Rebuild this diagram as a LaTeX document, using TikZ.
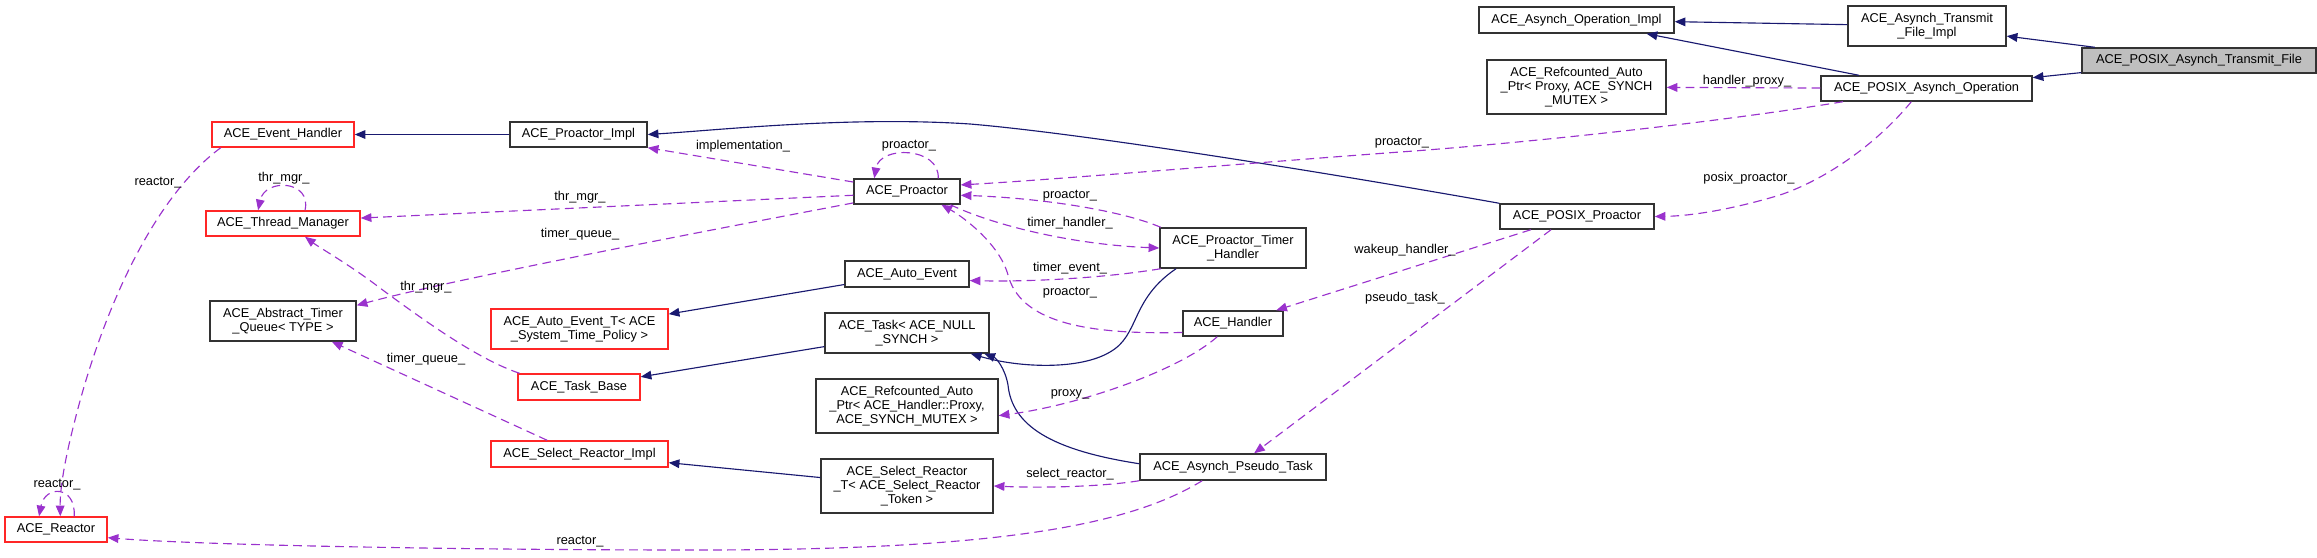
\documentclass[tikz,border=0pt]{standalone}
\usepackage{fontspec}
\setmainfont{Liberation Sans}
\usetikzlibrary{arrows.meta}
\definecolor{inheritblue}{HTML}{191970}
\definecolor{usepurple}{HTML}{9A32CD}
\tikzset{ %inner sep = 0mm,
  >={Triangle[length=8pt,width=6.5pt]},
  {class/.style} ={draw=black!80, line width=1.1pt, fill=white, inner sep=0,
                   align=center, font=\fontsize{9.6}{10.5}\selectfont},
  {red class/.style} ={class, draw=red!85},
  {this class/.style} ={class, fill=gray!50},
  {box size/.style 2 args} ={minimum width=#1*0.75pt, minimum height=#2*0.75pt},
  {inherit/.style} ={->, line width=0.85pt, draw=inheritblue},
  {use/.style} ={->, line width=0.85pt, draw=usepurple, dash pattern=on 6.5pt off 4pt},
  {edge label/.style} ={inner sep=0, font=\fontsize{9.6}{10.5}\selectfont},
}

\begin{document}
\begin{tikzpicture}[x=0.75pt, y=-0.75pt]
\useasboundingbox (0,0) rectangle (2317,557);

% classes
\node[this class, box size={234}{25}] (transmitfile) at (2199,60.5) {ACE\_POSIX\_Asynch\_Transmit\_File};
\node[class, box size={158}{40}] (transmitimpl) at (1927,26) {ACE\_Asynch\_Transmit\\\_File\_Impl};
\node[class, box size={195}{26}] (opimpl) at (1576.5,20) {ACE\_Asynch\_Operation\_Impl};
\node[class, box size={211}{25}] (posixop) at (1926.5,88.5) {ACE\_POSIX\_Asynch\_Operation};
\node[class, box size={179}{54}] (refproxy) at (1576.5,87) {ACE\_Refcounted\_Auto\\\_Ptr< Proxy, ACE\_SYNCH\\\_MUTEX >};
\node[class, box size={154}{25}] (posixproactor) at (1577,216.5) {ACE\_POSIX\_Proactor};
\node[class, box size={137}{25}] (proactorimpl) at (578.5,134.5) {ACE\_Proactor\_Impl};
\node[red class, box size={142}{25}] (eventhandler) at (283,134.5) {ACE\_Event\_Handler};
\node[class, box size={106}{25}] (proactor) at (907,191.5) {ACE\_Proactor};
\node[red class, box size={154}{25}] (threadmgr) at (283,223.5) {ACE\_Thread\_Manager};
\node[class, box size={146}{40}] (timerhandler) at (1233,248) {ACE\_Proactor\_Timer\\\_Handler};
\node[class, box size={124}{26}] (autoevent) at (907,274) {ACE\_Auto\_Event};
\node[class, box size={146}{40}] (timerqueue) at (283,321) {ACE\_Abstract\_Timer\\\_Queue< TYPE >};
\node[red class, box size={177}{40}] (autoeventT) at (579.5,329) {ACE\_Auto\_Event\_T< ACE\\\_System\_Time\_Policy >};
\node[class, box size={100}{25}] (handler) at (1233,323.5) {ACE\_Handler};
\node[class, box size={164}{40}] (task) at (907,333) {ACE\_Task< ACE\_NULL\\\_SYNCH >};
\node[red class, box size={122}{26}] (taskbase) at (579,387) {ACE\_Task\_Base};
\node[class, box size={182}{54}] (refhandler) at (907,406) {ACE\_Refcounted\_Auto\\\_Ptr< ACE\_Handler::Proxy,\\ ACE\_SYNCH\_MUTEX >};
\node[red class, box size={177}{26}] (selectimpl) at (579.5,454) {ACE\_Select\_Reactor\_Impl};
\node[class, box size={172}{54}] (selectT) at (907,486) {ACE\_Select\_Reactor\\\_T< ACE\_Select\_Reactor\\\_Token >};
\node[class, box size={186}{26}] (pseudotask) at (1233,467) {ACE\_Asynch\_Pseudo\_Task};
\node[red class, box size={102}{25}] (reactor) at (56,529.5) {ACE\_Reactor};

% inheritance
\draw[inherit] (transmitfile) -- (transmitimpl);
\draw[inherit] (transmitfile) -- (posixop);
\draw[inherit] (transmitimpl) -- (opimpl);
\draw[inherit] (posixop) -- (opimpl);
\draw[inherit] (posixproactor.north west) .. controls (1380,182) and (1100,135) .. (970,124)
               .. controls (850,116) and (720,130) .. (proactorimpl.east);
\draw[inherit] (proactorimpl) -- (eventhandler);
\draw[inherit] (autoevent) -- (autoeventT);
\draw[inherit] (task) -- (taskbase);
\draw[inherit] (selectT) -- (selectimpl);
\draw[inherit] (timerhandler.200) .. controls (1130,300) and (1140,335) .. (1110,352)
               .. controls (1080,370) and (1020,368) .. (task.342);
\draw[inherit] (pseudotask.178) .. controls (1050,450) and (1012,425) .. (1008,385)
               .. controls (1005,368) and (996,358) .. (task.345.5);

% members
\draw[use] (posixop) -- (refproxy);
\draw[use] (posixop.189) .. controls (1700,125) and (1500,145) .. (1400,152)
           .. controls (1250,163) and (1050,180) .. (proactor.7);
\draw[use] (posixop.221) .. controls (1880,140) and (1830,178) .. (1780,195)
           .. controls (1730,210) and (1690,216) .. (posixproactor.east);
\draw[use] (posixproactor.196) -- (handler.17);
\draw[use] (posixproactor.207.5) -- (pseudotask.33);
\draw[use] (proactor.23) .. controls (940,147) and (880,145) .. (proactor.158);
\draw[use] (proactor.170) -- (proactorimpl.south east);
\draw[use] (proactor.184) -- (threadmgr.4);
\draw[use] (proactor.192) .. controls (700,232) and (450,280) .. (timerqueue.12);
\draw[use] (timerhandler.164) .. controls (1120,210) and (1040,198) .. (proactor.356);
\draw[use] (proactor.343) .. controls (1000,228) and (1080,245) .. (timerhandler.west);
\draw[use] (timerhandler.196) .. controls (1110,277) and (1040,282) .. (autoevent.354);
\draw[use] (handler.190) .. controls (1080,335) and (1020,320) .. (1008,275)
           .. controls (1000,245) and (965,218) .. (proactor.339);
\draw[use] (handler.220) .. controls (1180,370) and (1080,405) .. (refhandler.354);
\draw[use] (pseudotask.south west) .. controls (1100,487) and (1040,488) .. (selectT.east);
\draw[use] (pseudotask.204) .. controls (1130,525) and (1000,550) .. (700,550)
           .. controls (450,550) and (200,545) .. (reactor.351.5);
\draw[use] (reactor.36) .. controls (76,485) and (45,485) .. (reactor.142);
\draw[use] (eventhandler.192) .. controls (150,200) and (100,320) .. (75,420)
           .. controls (62,470) and (60,495) .. (reactor.72);
\draw[use] (threadmgr.31) .. controls (312,180) and (265,178) .. (threadmgr.152.5);
\draw[use] (taskbase.167) .. controls (480,360) and (430,325) .. (380,288)
           .. controls (350,265) and (320,248) .. (threadmgr.329);
\draw[use] (selectimpl.157) -- (timerqueue.337);

% member names
\node[edge label] (lhandlerproxy) at (1747,81) {handler\_proxy\_};
\node[edge label] (lproactor1) at (1402,143) {proactor\_};
\node[edge label] (lposixproactor) at (1749,178) {posix\_proactor\_};
\node[edge label] (lwakeup) at (1405,250) {wakeup\_handler\_};
\node[edge label] (lpseudotask) at (1405,298) {pseudo\_task\_};
\node[edge label] (lproactor2) at (909,146) {proactor\_};
\node[edge label] (limpl) at (743,146) {implementation\_};
\node[edge label] (lthrmgr1) at (580,197) {thr\_mgr\_};
\node[edge label] (ltimerqueue1) at (580,234) {timer\_queue\_};
\node[edge label] (lproactor3) at (1070,196) {proactor\_};
\node[edge label] (ltimerhandler) at (1070,223) {timer\_handler\_};
\node[edge label] (ltimerevent) at (1070,268) {timer\_event\_};
\node[edge label] (lproactor4) at (1070,293) {proactor\_};
\node[edge label] (lproxy) at (1070,394) {proxy\_};
\node[edge label] (lselect) at (1070,474) {select\_reactor\_};
\node[edge label] (lreactor1) at (580,542) {reactor\_};
\node[edge label] (lreactor2) at (57,485) {reactor\_};
\node[edge label] (lreactor3) at (158,183) {reactor\_};
\node[edge label] (lthrmgr2) at (284,178) {thr\_mgr\_};
\node[edge label] (lthrmgr3) at (426,287) {thr\_mgr\_};
\node[edge label] (ltimerqueue2) at (426,359) {timer\_queue\_};
\end{tikzpicture}
\end{document}
